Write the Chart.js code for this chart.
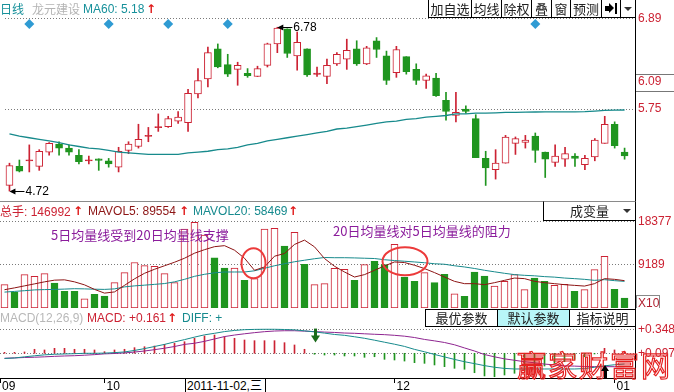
<!DOCTYPE html>
<html><head><meta charset="utf-8">
<script src="https://cdn.jsdelivr.net/npm/chart.js@4.4.0/dist/chart.umd.min.js"></script>
<style>
html,body{margin:0;padding:0;background:#fff;}
body{width:674px;height:392px;position:relative;overflow:hidden;font-family:"Liberation Sans","Noto Sans CJK SC",sans-serif;}
canvas{position:absolute;left:0;}
.t{position:absolute;white-space:nowrap;font-size:12px;line-height:14px;height:14px;}
.cjk{font-family:"Noto Sans CJK SC",sans-serif;}
.arr{position:absolute;font-family:"DejaVu Sans",sans-serif;font-weight:bold;font-size:12px;line-height:14px;color:#e01818;}
.btn{position:absolute;box-sizing:border-box;border:1px solid #000;font-size:13px;text-align:center;background:#fff;color:#222;font-family:"Noto Sans CJK SC",sans-serif;}
.ln{position:absolute;}
</style></head><body>
<canvas id="cp" width="674" height="206" style="top:6px"></canvas>
<canvas id="cv" width="674" height="112" style="top:208px"></canvas>
<canvas id="cm" width="674" height="77" style="top:315px"></canvas>

<!-- frame lines -->
<div class="ln" style="left:635px;top:0;width:1px;height:379px;background:#000"></div>
<div class="ln" style="left:0;top:201px;width:635px;height:1px;background:#8a8a8a"></div>
<div class="ln" style="left:636px;top:74px;width:38px;height:1px;background:#777"></div>
<div class="ln" style="left:636px;top:91px;width:38px;height:1px;background:#777"></div>

<!-- top header -->
<div class="t cjk" style="left:0;top:2px;color:#16909a">日线</div>
<div class="t cjk" style="left:32px;top:2px;color:#b4b4b4">龙元建设</div>
<div class="t" style="left:83px;top:2px;color:#16909a">MA60: 5.18</div>
<div class="arr" style="left:146px;top:2px">↑</div>

<div class="btn" style="left:428px;top:-1px;width:44px;height:19px;line-height:17px">加自选</div>
<div class="btn" style="left:471px;top:-1px;width:31px;height:19px;line-height:17px">均线</div>
<div class="btn" style="left:501px;top:-1px;width:31px;height:19px;line-height:17px">除权</div>
<div class="btn" style="left:531px;top:-1px;width:21px;height:19px;line-height:17px">叠</div>
<div class="btn" style="left:551px;top:-1px;width:20px;height:19px;line-height:17px">窗</div>
<div class="btn" style="left:570px;top:-1px;width:32px;height:19px;line-height:17px">预测</div>
<div class="btn" style="left:601px;top:-1px;width:20px;height:19px"></div>
<div class="btn" style="left:620px;top:-1px;width:16px;height:19px"></div>
<div class="ln" style="left:605px;top:6px;width:4px;height:5px;background:#000"></div>
<div class="ln" style="left:609px;top:3px;width:0;height:0;border-top:5.5px solid transparent;border-bottom:5.5px solid transparent;border-left:5px solid #000"></div>
<div class="ln" style="left:615px;top:3px;width:2px;height:11px;background:#000"></div>
<div class="ln" style="left:624px;top:7px;width:0;height:0;border-left:4px solid transparent;border-right:4px solid transparent;border-top:4px solid #333"></div>

<!-- volume header -->
<div class="t cjk" style="left:0;top:204px;color:#cc2233">总手<span style="font-family:'Liberation Sans'">: 146992</span></div>
<div class="arr" style="left:73px;top:204px">↑</div>
<div class="t" style="left:88px;top:204px;color:#8c1414">MAVOL5: 89554</div>
<div class="arr" style="left:179px;top:204px">↑</div>
<div class="t" style="left:193px;top:204px;color:#168a8e">MAVOL20: 58469</div>
<div class="arr" style="left:288px;top:204px">↑</div>
<div class="btn" style="left:543px;top:201px;width:93px;height:20px;border-top-color:#8a8a8a"></div>
<div class="t cjk" style="left:570px;top:204px;font-size:13px;color:#222">成变量</div>
<div class="ln" style="left:623px;top:209px;width:0;height:0;border-left:4px solid transparent;border-right:4px solid transparent;border-top:4px solid #333"></div>
<div class="t cjk" style="left:51px;top:227px;font-size:13px;line-height:16px;color:#8b1c9c">5日均量线受到20日均量线支撑</div>
<div class="t cjk" style="left:333px;top:223px;font-size:13px;line-height:16px;color:#8b1c9c">20日均量线对5日均量线的阻力</div>
<div class="ln" style="left:636px;top:295px;width:24px;height:13px;box-sizing:border-box;border:1px solid #888;border-bottom:none;overflow:hidden;font-size:12px;line-height:14px;color:#b02030;padding-left:1px">X10</div>

<!-- MACD header -->
<div class="t" style="left:0;top:311px;color:#b8b8b8">MACD(12,26,9)</div>
<div class="t" style="left:87px;top:311px;color:#cc2233">MACD: +0.161</div>
<div class="arr" style="left:167px;top:311px">↑</div>
<div class="t" style="left:182px;top:311px;color:#168a8e">DIFF: +</div>
<div class="btn" style="left:425px;top:309px;width:73px;height:18px;line-height:16px">最优参数</div>
<div class="btn" style="left:497px;top:309px;width:73px;height:18px;line-height:16px;background:#b8f6f8">默认参数</div>
<div class="btn" style="left:569px;top:309px;width:67px;height:18px;line-height:16px">指标说明</div>

<!-- x-axis cursor date -->
<div class="ln" style="left:185px;top:379px;width:81px;height:13px;box-sizing:border-box;border-left:1px solid #000;border-right:1px solid #000;background:#fff;font-size:12px;line-height:14px;padding-left:1px;color:#000">2011-11-02,三</div>

<!-- watermark + cursor -->
<div class="ln cjk" style="left:517px;top:344px;font-size:29px;line-height:40px;letter-spacing:2px;color:rgba(255,255,255,0);-webkit-text-stroke:1.2px #e42020;white-space:nowrap">赢家财富网</div>
<div class="ln" style="left:601px;top:365px;width:0;height:0;border-left:4px solid transparent;border-right:4px solid transparent;border-bottom:6px solid #000"></div>
<div class="ln" style="left:603.5px;top:370px;width:3px;height:8px;background:#000"></div>

<script>
// ---------------- data ----------------
const open  = [4.79,5.03,5.10,5.03,5.21,5.31,5.26,5.17,5.10,5.125,
               5.10,5.02,5.23,5.28,5.41,5.52,5.53,5.60,5.58,5.94,
               6.13,6.51,6.31,6.25,6.20,6.16,6.30,6.57,6.76,6.42,
               6.51,6.19,6.16,6.32,6.38,6.51,6.32,6.61,6.42,6.21,
               6.41,6.25,6.11,6.14,5.86,5.67,5.75,5.63,5.13,4.99,
               5.07,5.32,5.33,5.41,5.21,5.08,5.12,5.16,5.05,5.15,
               5.32,5.56,5.21];
const high  = [5.07,5.11,5.30,5.24,5.33,5.34,5.30,5.24,5.16,5.125,
               5.13,5.27,5.34,5.56,5.52,5.69,5.66,5.72,6.00,6.26,
               6.53,6.57,6.44,6.34,6.26,6.29,6.58,6.78,6.76,6.72,
               6.51,6.28,6.38,6.46,6.63,6.61,6.54,6.65,6.48,6.54,
               6.41,6.32,6.19,6.20,5.96,5.96,5.79,5.68,5.22,5.24,
               5.42,5.40,5.42,5.45,5.21,5.30,5.27,5.19,5.17,5.38,
               5.66,5.59,5.26];
const low   = [4.72,4.96,4.96,4.98,5.17,5.17,5.17,5.06,5.06,4.98,
               5.02,4.96,5.19,5.26,5.34,5.47,5.52,5.57,5.47,5.89,
               6.03,6.27,6.16,6.05,6.15,6.16,6.28,6.46,6.40,6.24,
               6.16,6.16,6.07,6.30,6.25,6.30,6.31,6.40,6.06,6.15,
               6.19,6.06,6.01,5.91,5.61,5.59,5.70,5.14,4.79,4.87,
               5.07,5.18,5.26,5.08,4.89,5.03,5.03,5.03,4.99,5.10,
               5.32,5.26,5.12];
const close = [5.04,4.97,5.11,5.22,5.32,5.26,5.21,5.09,5.11,5.105,
               5.06,5.22,5.31,5.37,5.42,5.53,5.63,5.65,5.95,6.11,
               6.46,6.28,6.19,6.30,6.17,6.26,6.57,6.77,6.45,6.59,
               6.18,6.20,6.30,6.44,6.49,6.32,6.52,6.50,6.11,6.50,
               6.22,6.11,6.17,5.92,5.72,5.71,5.72,5.14,5.01,5.07,
               5.40,5.38,5.36,5.23,5.12,5.16,5.19,5.13,5.13,5.36,
               5.56,5.29,5.16];
const ma60  = [5.44,5.41,5.39,5.37,5.35,5.33,5.30,5.28,5.26,5.25,
               5.23,5.21,5.20,5.19,5.18,5.18,5.18,5.18,5.20,5.21,
               5.22,5.24,5.25,5.27,5.30,5.32,5.35,5.37,5.39,5.41,
               5.43,5.45,5.47,5.50,5.51,5.53,5.55,5.57,5.59,5.60,
               5.62,5.63,5.65,5.66,5.67,5.69,5.69,5.70,5.70,5.704,
               5.708,5.71,5.713,5.714,5.715,5.715,5.716,5.716,5.718,5.726,
               5.735,5.738,5.739];
const volume = [4974,3388,7118,6754,7332,5317,3538,3538,1972,2894,
                2530,5403,7547,9691,9048,8898,7332,5403,16830,18267,
                15544,10677,8533,8533,5896,6260,16830,16980,13186,16123,
                9326,4974,5188,8469,8254,5896,9262,9970,9262,13550,
                6604,5682,7547,5403,7182,3044,2466,7676,6818,4674,
                5682,7118,3902,6389,5682,4824,5038,3538,3902,8190,
                11042,3966,2101];
const mavol5 = [3902,4288,4717,5146,5574,5939,6003,5574,4931,3966,
                3173,3430,4824,6218,7397,8254,9005,9755,10613,11685,
                12435,13078,13293,12328,10613,8040,8748,11042,11620,13550,
                14472,13036,10548,8898,7676,6604,7118,8040,8962,9820,
                9691,9112,8404,7547,6604,5682,5188,5188,4974,5403,
                5896,6389,6260,5682,5403,5188,4974,4824,4674,5188,
                6260,6110,5832];
const mavol20 = [3388,3538,3688,3859,3924,3966,4031,4116,4074,4009,
                 3966,4074,4502,4717,4867,5038,5210,5574,6110,6754,
                 7182,7504,7676,7676,7676,7933,8469,9005,9434,9862,
                 10184,10506,10763,10720,10720,10677,10613,10548,10291,10120,
                 9970,9820,9648,9434,9326,9005,8748,8426,8040,7718,
                 7397,7118,6968,6861,6689,6582,6389,6260,6110,5896,
                 6046,5832,5682];
const diff = [0.043,0.048,0.060,0.071,0.081,0.087,0.090,0.093,0.097,0.097,
              0.099,0.104,0.111,0.127,0.146,0.168,0.190,0.216,0.240,0.266,
              0.290,0.306,0.324,0.336,0.344,0.347,0.348,0.348,0.346,0.342,
              0.332,0.321,0.308,0.294,0.285,0.270,0.254,0.234,0.213,0.192,
              0.169,0.138,0.113,0.085,0.059,0.033,0.009,-0.011,-0.032,-0.049,
              -0.061,-0.067,-0.067,-0.067,-0.067,-0.067,-0.067,-0.067,-0.063,-0.049,
              -0.034,-0.023,-0.015];
const dea  = [0.045,0.049,0.053,0.056,0.060,0.065,0.069,0.072,0.077,0.083,
              0.091,0.095,0.101,0.110,0.121,0.135,0.150,0.168,0.190,0.202,
              0.222,0.247,0.272,0.288,0.301,0.313,0.323,0.330,0.333,0.333,
              0.329,0.324,0.319,0.315,0.309,0.306,0.301,0.296,0.292,0.285,
              0.276,0.262,0.242,0.227,0.210,0.186,0.153,0.121,0.084,0.060,
              0.039,0.024,0.009,-0.002,-0.016,-0.024,-0.034,-0.037,-0.041,-0.043,
              -0.043,-0.043,-0.043];
const macdHist = [0.010,0.010,0.014,0.042,0.035,0.052,0.052,0.042,0.042,0.035,
                  0.017,0.035,0.042,0.059,0.069,0.076,0.094,0.105,0.121,0.157,
                  0.181,0.191,0.174,0.157,0.139,0.132,0.132,0.132,0.111,0.087,
                  0.042,-0.010,-0.018,-0.018,-0.028,-0.028,-0.042,-0.036,-0.063,-0.070,
                  -0.081,-0.098,-0.105,-0.122,-0.140,-0.157,-0.167,-0.203,-0.237,-0.245,
                  -0.227,-0.209,-0.185,-0.157,-0.133,-0.105,-0.088,-0.063,-0.036,-0.007,
                  0.052,0.035,0.017];
const priceTicks = [6.89, 6.09, 5.75];
const volTicks = [9189, 18377];
const macdTicks = [0.097, 0.348];
const macdBase = 0.097;
const monthTickIdx = [-0.45, 10, 39, 61];
const monthLabels = ['09', '10', '12', '01'];
const markerIdx = [2, 10, 16, 22, 53];
const markerLevel = 6.82;
const crossIdx = 31;

// ---------------- helpers ----------------
const RED = '#cc2233', GREEN = '#1f951f', TEAL = '#178a8c', GRID = '#7a7a7a';
const N = close.length;
const idx = Array.from({length: N}, (_, i) => i);
const X_MIN = -0.45, X_MAX = 63.05;
const isUp = i => close[i] >= open[i];
function bodyRange(i) {
  let a = Math.min(open[i], close[i]), b = Math.max(open[i], close[i]);
  if (b - a < 0.014) { const m = (a + b) / 2; a = m - 0.007; b = m + 0.007; }
  return [a, b];
}
Chart.defaults.font.family = '"Liberation Sans","Noto Sans CJK SC",sans-serif';
Chart.defaults.font.size = 12;
Chart.defaults.animation = false;

const xHidden = {type: 'linear', min: X_MIN, max: X_MAX, display: false, offset: false, grid: {offset: false}};
function yAxis(min, max, ticks, fmt, gridColorFn) {
  return {
    position: 'right', min, max,
    afterFit: s => { s.width = 39; },
    afterBuildTicks: s => { s.ticks = ticks.map(v => ({value: v})); },
    ticks: {color: RED, padding: 3, font: {size: 12}, callback: fmt},
    grid: {color: gridColorFn || GRID, drawTicks: false, lineWidth: 1},
    border: {display: false, dash: [1, 2]}
  };
}
const baseOpts = {
  responsive: false, maintainAspectRatio: false, devicePixelRatio: 1, events: [],
  plugins: {legend: {display: false}, tooltip: {enabled: false}}
};

// ---------------- price chart ----------------
const priceNotes = {
  id: 'priceNotes',
  afterDatasetsDraw(chart) {
    const {ctx, scales: {x, y}} = chart;
    const hi = Math.max(...high), lo = Math.min(...low);
    const hiI = high.indexOf(hi), loI = low.indexOf(lo);
    [[hiI, hi], [loI, lo]].forEach(([i, v]) => {
      const px = x.getPixelForValue(i), py = Math.round(y.getPixelForValue(v)) + 0.5;
      ctx.save();
      ctx.strokeStyle = '#000'; ctx.fillStyle = '#000'; ctx.lineWidth = 1;
      ctx.beginPath(); ctx.moveTo(px + 2, py); ctx.lineTo(px + 15, py); ctx.stroke();
      ctx.beginPath(); ctx.moveTo(px, py); ctx.lineTo(px + 6, py - 3); ctx.lineTo(px + 6, py + 3); ctx.closePath(); ctx.fill();
      ctx.font = '12px "Liberation Sans"'; ctx.textBaseline = 'middle'; ctx.textAlign = 'left';
      ctx.fillText(v.toFixed(2), px + 16, py);
      ctx.restore();
    });
  }
};
const pMax = 6.8963, pMin = 4.6070;
new Chart(document.getElementById('cp'), {
  type: 'bar',
  data: {datasets: [
    {type: 'line', order: 0, data: markerIdx.map(i => ({x: i, y: markerLevel})), showLine: false,
     pointStyle: 'rectRot', pointRadius: 5, pointBackgroundColor: '#2f9bd3', pointBorderWidth: 0},
    {type: 'line', order: 1, data: idx.map(i => ({x: i, y: ma60[i]})), borderColor: TEAL, borderWidth: 1.3,
     pointRadius: 0, tension: 0},
    {order: 2, grouped: false, barThickness: 7, borderWidth: 1, borderSkipped: false,
     data: idx.map(i => ({x: i, y: bodyRange(i)})),
     backgroundColor: c => { const i = c.dataIndex; if (!isUp(i)) return GREEN; return (close[i] - open[i] < 0.03) ? RED : '#fff'; },
     borderColor: c => isUp(c.dataIndex) ? RED : GREEN},
    {order: 3, grouped: false, barThickness: 1, borderWidth: 0,
     data: idx.map(i => ({x: i, y: [low[i], high[i]]})),
     backgroundColor: c => isUp(c.dataIndex) ? RED : GREEN}
  ]},
  options: Object.assign({}, baseOpts, {
    layout: {padding: {left: 0, right: 0, top: 12, bottom: 12}},
    scales: {
      x: xHidden,
      y: yAxis(pMin, pMax, priceTicks, v => v.toFixed(2), c => (c.tick && Math.abs(c.tick.value - 6.09) < 1e-6) ? 'rgba(0,0,0,0)' : GRID)
    }
  }),
  plugins: [priceNotes]
});

// ---------------- volume chart ----------------
const volEllipses = [{i: 24.9, v: 9540, rx: 12, ry: 15}, {i: 40.05, v: 9970, rx: 22.5, ry: 14}];
const ellipsePlugin = {
  id: 'ellipses',
  afterDatasetsDraw(chart) {
    const {ctx, scales: {x, y}} = chart;
    ctx.save();
    ctx.strokeStyle = '#ec3a3a'; ctx.lineWidth = 2;
    volEllipses.forEach(e => {
      ctx.beginPath();
      ctx.ellipse(x.getPixelForValue(e.i), y.getPixelForValue(e.v), e.rx, e.ry, 0, 0, Math.PI * 2);
      ctx.stroke();
    });
    ctx.restore();
  }
};
new Chart(document.getElementById('cv'), {
  type: 'bar',
  data: {datasets: [
    {type: 'line', order: 0, data: idx.map(i => ({x: i, y: mavol5[i]})), borderColor: '#8c1414', borderWidth: 1, pointRadius: 0},
    {type: 'line', order: 1, data: idx.map(i => ({x: i, y: mavol20[i]})), borderColor: TEAL, borderWidth: 1, pointRadius: 0},
    {order: 2, grouped: false, barThickness: 7, borderWidth: 1, borderSkipped: false,
     data: idx.map(i => ({x: i, y: volume[i]})),
     backgroundColor: c => isUp(c.dataIndex) ? '#fff' : GREEN,
     borderColor: c => isUp(c.dataIndex) ? RED : GREEN}
  ]},
  options: Object.assign({}, baseOpts, {
    layout: {padding: {left: 0, right: 0, top: 12, bottom: 12}},
    scales: {x: xHidden, y: yAxis(0, 18761, volTicks, v => String(v))}
  }),
  plugins: [ellipsePlugin]
});

// ---------------- MACD chart ----------------
const crossArrow = {
  id: 'crossArrow',
  afterDatasetsDraw(chart) {
    const {ctx, scales: {x, y}} = chart;
    const px = Math.round(x.getPixelForValue(crossIdx));
    const top = y.getPixelForValue(Math.max(diff[crossIdx], dea[crossIdx])) - 3;
    ctx.save();
    ctx.fillStyle = '#1a6a1a';
    ctx.fillRect(px - 1, top, 3, 8);
    ctx.beginPath(); ctx.moveTo(px - 4, top + 7); ctx.lineTo(px + 5, top + 7); ctx.lineTo(px + 0.5, top + 14); ctx.closePath(); ctx.fill();
    ctx.restore();
  }
};
new Chart(document.getElementById('cm'), {
  type: 'bar',
  data: {datasets: [
    {type: 'line', order: 0, data: idx.map(i => ({x: i, y: diff[i]})), borderColor: TEAL, borderWidth: 1, pointRadius: 0},
    {type: 'line', order: 1, data: idx.map(i => ({x: i, y: dea[i]})), borderColor: '#8e2590', borderWidth: 1, pointRadius: 0},
    {order: 2, grouped: false, barThickness: 1, borderWidth: 0,
     data: idx.map(i => ({x: i, y: [macdBase, macdBase + macdHist[i]]})),
     backgroundColor: c => macdHist[c.dataIndex] >= 0 ? RED : GREEN}
  ]},
  options: Object.assign({}, baseOpts, {
    layout: {padding: {left: 0, right: 0, top: 12, bottom: 0}},
    scales: {
      x: {type: 'linear', min: X_MIN, max: X_MAX, position: 'bottom', offset: false,
          afterFit: s => { s.height = 14; },
          afterBuildTicks: s => { s.ticks = monthTickIdx.map(v => ({value: v})); },
          ticks: {autoSkip: false, maxRotation: 0, minRotation: 0, align: 'start', labelOffset: 2, padding: -4,
                  color: '#000', font: {size: 12}, callback: (v, i) => monthLabels[i]},
          grid: {offset: false, drawOnChartArea: false, drawTicks: true, tickLength: 5, tickColor: '#000'},
          border: {display: true, color: '#000', width: 1}},
      y: yAxis(-0.1613, 0.3720, macdTicks, v => '+' + v.toFixed(3))
    }
  }),
  plugins: [crossArrow]
});
</script>
</body></html>
